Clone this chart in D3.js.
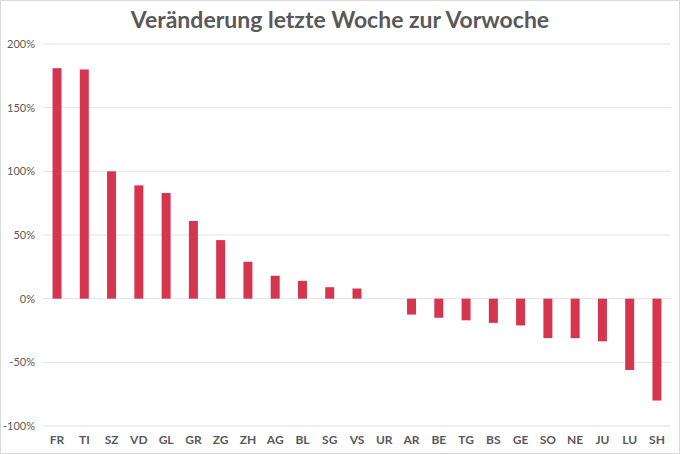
<!DOCTYPE html>
<html><head><meta charset="utf-8">
<script src="https://cdn.jsdelivr.net/npm/d3@7"></script>
<style>body{margin:0;background:#fff}</style></head>
<body><svg id="c" width="680" height="454"></svg>
<script>
const categories=["FR","TI","SZ","VD","GL","GR","ZG","ZH","AG","BL","SG","VS","UR","AR","BE","TG","BS","GE","SO","NE","JU","LU","SH"];
const values=[181,180,100,89,83,61,46,29,18,14,9,8,0,-12.5,-15,-17,-19,-21,-31,-31,-33.5,-56,-80];
const yTicks=[-100,-50,0,50,100,150,200];
const svg=d3.select("#c");
svg.append("rect").attr("x",0.5).attr("y",0.5).attr("width",679).attr("height",453).attr("fill","#fff").attr("stroke","#d9d9d9");
svg.append("text").attr("x",340).attr("y",28).attr("text-anchor","middle").attr("font-family","Lato").attr("font-weight","bold").attr("font-size",23).attr("fill","#595959").text("Veränderung letzte Woche zur Vorwoche");
const x=d3.scaleBand().domain(categories).range([43.4,670.6]).paddingInner(0.67).paddingOuter(0.335);
const y=d3.scaleLinear().domain([-100,200]).range([426,44]);
const g=svg.append("g");
g.selectAll("line.grid").data(yTicks).join("line").attr("x1",43).attr("x2",671).attr("y1",d=>y(d)).attr("y2",d=>y(d)).attr("stroke","#e3e3e3");
const ax=svg.append("g").attr("transform","translate(43,0)").call(d3.axisLeft(y).tickValues(yTicks).tickSize(0).tickPadding(8).tickFormat(d=>d+"%"));
ax.select(".domain").remove();
ax.selectAll("text").attr("font-family","Lato").attr("font-size",11).attr("fill","#595959");
g.selectAll("rect.bar").data(values).join("rect").attr("x",(d,i)=>x(categories[i])).attr("width",x.bandwidth())
 .attr("y",d=>y(Math.max(0,d))).attr("height",d=>Math.abs(y(d)-y(0))).attr("fill","#d6354f");
const bx=svg.append("g").attr("transform","translate(0,426)").call(d3.axisBottom(x).tickSize(0).tickPadding(9));
bx.select(".domain").remove();
bx.selectAll("text").attr("font-family","Lato").attr("font-weight","bold").attr("font-size",12).attr("fill","#595959");
</script></body></html>
